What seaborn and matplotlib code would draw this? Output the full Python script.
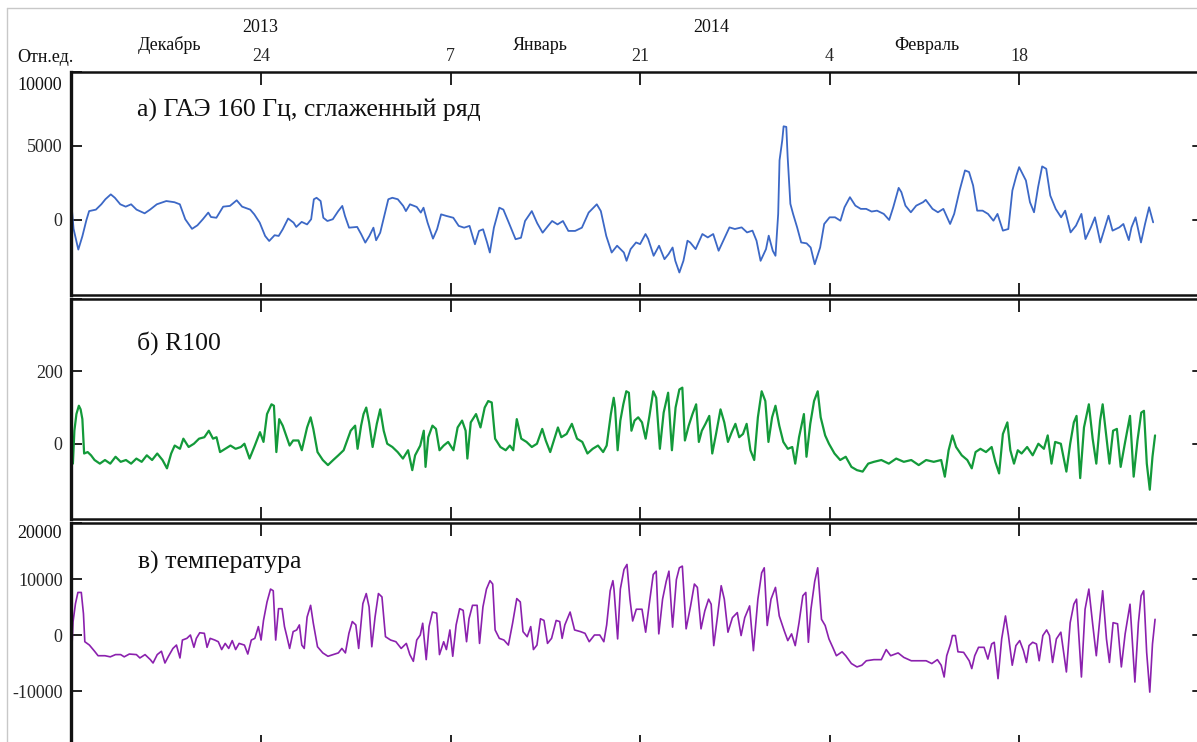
import matplotlib
matplotlib.use("Agg")
import matplotlib.pyplot as plt
import seaborn as sns
import pandas as pd
from matplotlib.lines import Line2D

# ---------------- data (day 0 = 10 December 2013) ----------------
tick_days = [14, 28, 42, 56, 70]
tick_labels = ["24", "7", "21", "4", "18"]
years = [("2013", 260), ("2014", 711)]
months = [("Декабрь", 170), ("Январь", 540), ("Февраль", 927)]

titles = ["а) ГАЭ 160 Гц, сглаженный ряд", "б) R100", "в) температура"]

# (day, value) — ГАЭ 160 Гц, smoothed
gae_points = [
    (0.0, 1000), (0.15, -600), (0.5, -2000), (0.8, -1100), (1.1, 0), (1.3, 600), (1.8, 700),
    (2.2, 1060), (2.5, 1400), (2.9, 1730), (3.2, 1500), (3.6, 1060), (4.0, 900), (4.4, 1060),
    (4.8, 700), (5.4, 450), (5.8, 700), (6.3, 1060), (7.0, 1280), (7.6, 1200), (8.0, 1060),
    (8.4, 50), (8.9, -600), (9.3, -360), (9.7, 50), (10.1, 500), (10.3, 200), (10.7, 150),
    (11.2, 900), (11.7, 950), (12.2, 1330), (12.6, 900), (13.2, 700), (13.5, 380), (13.9, -180),
    (14.3, -1080), (14.6, -1420), (15.0, -1030), (15.3, -1080), (15.6, -630), (16.0, 100),
    (16.4, -180), (16.6, -470), (17.0, -130), (17.4, -300), (17.7, 50), (17.9, 1400), (18.1, 1500),
    (18.4, 1280), (18.6, 150), (18.9, -70), (19.3, 50), (19.7, 600), (20.0, 950), (20.2, 270),
    (20.5, -520), (21.1, -470), (21.4, -970), (21.7, -1530), (22.0, -1080), (22.3, -520),
    (22.5, -1370), (22.8, -860), (23.1, 270), (23.4, 1400), (23.7, 1500), (24.1, 1400),
    (24.5, 950), (24.7, 600), (25.0, 1060), (25.5, 880), (25.8, 500), (26.0, 830), (26.3, -180),
    (26.7, -1260), (27.0, -630), (27.3, 380), (27.7, 270), (28.2, 150), (28.6, -400), (29.0, -520),
    (29.4, -400), (29.8, -1640), (30.1, -740), (30.4, -630), (30.7, -1530), (30.9, -2200),
    (31.2, -520), (31.6, 830), (31.9, 700), (32.3, -180), (32.8, -1300), (33.2, -1200),
    (33.5, -70), (34.0, 600), (34.4, -220), (34.8, -860), (35.2, -400), (35.5, -70), (35.9, -300),
    (36.3, -70), (36.7, -740), (37.2, -740), (37.7, -520), (38.2, 500), (38.8, 1060), (39.1, 600),
    (39.5, -1080), (39.9, -2200), (40.3, -1740), (40.8, -2200), (41.0, -2760), (41.3, -1970),
    (41.7, -1520), (42.0, -1630), (42.4, -950), (42.6, -1290), (43.0, -2420), (43.4, -1740),
    (43.8, -2650), (44.1, -2310), (44.4, -1860), (44.6, -2760), (44.9, -3550), (45.2, -2760),
    (45.5, -1400), (45.7, -1520), (46.1, -1970), (46.6, -950), (47.0, -1180), (47.4, -950),
    (47.8, -2080), (48.2, -1290), (48.6, -500), (49.0, -610), (49.5, -500), (49.9, -840),
    (50.3, -720), (50.6, -1400), (50.9, -2760), (51.3, -1970), (51.5, -1060), (51.8, -2080),
    (52.0, -2420), (52.2, 410), (52.3, 4030), (52.5, 5380), (52.6, 6330), (52.8, 6290),
    (52.9, 4250), (53.1, 1090), (53.3, 410), (53.6, -500), (53.9, -1520), (54.3, -1580),
    (54.6, -1860), (54.9, -2990), (55.3, -1860), (55.6, -270), (56.0, 180), (56.4, 180),
    (56.8, -50), (57.1, 860), (57.5, 1540), (57.9, 970), (58.3, 750), (58.7, 750), (59.1, 570),
    (59.5, 630), (60.0, 410), (60.4, 0), (60.7, 860), (61.1, 2170), (61.3, 1880), (61.6, 970),
    (62.0, 520), (62.4, 970), (62.9, 1200), (63.1, 1360), (63.6, 750), (64.0, 520), (64.4, 750),
    (64.9, -270), (65.2, 410), (65.6, 1990), (66.0, 3350), (66.3, 3240), (66.6, 2330),
    (66.9, 630), (67.3, 630), (67.7, 410), (68.1, -50), (68.4, 410), (68.8, -720), (69.2, -610),
    (69.5, 1990), (69.8, 3010), (70.0, 3570), (70.5, 2670), (70.8, 1200), (71.1, 520),
    (71.4, 2220), (71.7, 3620), (72.0, 3460), (72.3, 1650), (72.7, 750), (73.1, 180), (73.4, 630),
    (73.8, -840), (74.2, -380), (74.6, 410), (74.9, -1290), (75.3, -500), (75.6, 180),
    (76.0, -1520), (76.3, -610), (76.6, 290), (76.9, -720), (77.4, -500), (77.7, -270),
    (78.1, -1360), (78.3, -500), (78.6, 180), (79.0, -1520), (79.3, -270), (79.6, 860),
    (79.9, -160),
]

# (day, value) — R100
r100_points = [
    (0.0, -55), (0.1, -55), (0.21, 36), (0.36, 82), (0.54, 105), (0.67, 95), (0.8, 68),
    (0.93, -27), (1.19, -23), (1.44, -32), (1.7, -45), (2.09, -55), (2.47, -45), (2.86, -55),
    (3.25, -36), (3.63, -50), (4.02, -45), (4.4, -55), (4.79, -41), (5.18, -50), (5.56, -32),
    (5.95, -45), (6.33, -27), (6.72, -45), (7.05, -68), (7.36, -27), (7.62, -5), (8.01, -14),
    (8.26, 14), (8.65, -9), (9.04, 0), (9.42, 14), (9.81, 18), (10.14, 36), (10.45, 14),
    (10.71, 18), (10.97, -23), (11.35, -14), (11.74, -5), (12.12, -14), (12.51, -9), (12.77, 0),
    (13.15, -41), (13.54, -5), (13.92, 32), (14.18, 5), (14.44, 82), (14.77, 109), (14.95, 105),
    (15.13, -23), (15.34, 68), (15.6, 50), (15.85, 23), (16.11, -5), (16.37, 9), (16.76, 9),
    (17.01, -18), (17.4, 45), (17.66, 73), (17.86, 41), (18.17, -23), (18.56, -45), (18.94, -59),
    (19.33, -45), (19.71, -32), (20.1, -18), (20.36, 9), (20.62, 36), (20.95, 50), (21.13, -14),
    (21.39, 50), (21.57, 82), (21.77, 100), (21.98, 59), (22.24, -9), (22.55, 55), (22.8, 95),
    (23.06, 36), (23.32, 0), (23.7, -9), (24.09, -23), (24.48, -41), (24.86, -18), (25.17, -73),
    (25.38, -32), (25.76, -5), (26.02, 36), (26.15, -64), (26.35, 18), (26.66, 50), (26.92, 41),
    (27.18, -18), (27.49, -5), (27.82, 5), (28.21, -18), (28.52, 45), (28.85, 64), (29.11, 36),
    (29.24, -41), (29.49, 59), (29.88, 82), (30.21, 45), (30.52, 100), (30.78, 118), (31.04, 114),
    (31.29, 14), (31.68, -9), (32.07, -18), (32.38, -5), (32.63, -18), (32.89, 68), (33.22, 14),
    (33.61, 5), (34.0, -9), (34.38, 0), (34.77, 41), (35.03, 9), (35.36, -23), (35.67, 14),
    (35.93, 45), (36.18, 18), (36.57, 27), (36.96, 55), (37.34, 14), (37.73, 5), (38.11, -27),
    (38.5, -14), (38.89, -5), (39.27, -23), (39.53, -5), (39.84, 82), (40.05, 127), (40.15, 100),
    (40.34, -18), (40.54, 64), (40.76, 109), (40.98, 145), (41.17, 141), (41.36, 36), (41.59, 64),
    (41.86, 73), (42.14, 59), (42.41, 14), (42.69, 77), (42.97, 145), (43.19, 127), (43.46, -14),
    (43.74, 86), (44.07, 141), (44.35, -18), (44.62, 100), (44.9, 150), (45.12, 155), (45.31, 9),
    (45.59, 50), (45.87, 82), (46.14, 109), (46.34, 5), (46.56, 36), (46.83, 55), (47.11, 77),
    (47.33, -27), (47.61, 27), (47.94, 95), (48.22, 59), (48.49, 5), (48.77, 32), (49.04, 55),
    (49.32, 18), (49.6, 27), (49.87, 55), (50.15, -18), (50.43, -45), (50.7, 73), (50.98, 145),
    (51.25, 118), (51.48, 5), (51.75, 73), (52.0, 105), (52.28, 50), (52.58, 5), (52.91, -14),
    (53.24, -9), (53.46, -55), (53.74, 18), (54.1, 82), (54.29, -36), (54.57, 55), (54.85, 118),
    (55.12, 145), (55.34, 73), (55.67, 23), (55.95, 0), (56.36, -27), (56.78, -45), (57.19, -36),
    (57.61, -64), (58.02, -73), (58.44, -77), (58.85, -55), (59.27, -50), (59.82, -45),
    (60.37, -55), (60.92, -41), (61.48, -50), (62.03, -45), (62.58, -59), (63.13, -45),
    (63.69, -50), (64.24, -45), (64.51, -91), (64.79, -18), (65.07, 23), (65.34, -9), (65.76, -32),
    (66.17, -45), (66.5, -68), (66.78, -23), (67.14, -14), (67.55, -23), (67.97, -9), (68.24, -50),
    (68.52, -82), (68.8, 27), (69.13, 59), (69.35, -18), (69.62, -55), (69.9, -18), (70.18, -27),
    (70.59, -9), (71.0, -32), (71.42, 0), (71.83, -14), (72.11, 23), (72.39, -55), (72.66, 5),
    (73.08, 0), (73.49, -77), (73.77, 0), (74.04, 59), (74.24, 77), (74.51, -95), (74.79, 45),
    (75.15, 109), (75.43, 14), (75.7, -55), (75.98, 64), (76.17, 109), (76.39, 36), (76.67, -55),
    (76.94, 36), (77.22, 41), (77.5, -64), (77.83, 5), (78.19, 77), (78.46, -91), (78.74, 9),
    (79.02, 86), (79.22, 91), (79.43, -55), (79.65, -127), (79.85, -36), (80.04, 23),
]

# (day, value) — температура
temp_points = [
    (0.0, -3800), (0.11, 2350), (0.29, 5600), (0.47, 7600), (0.72, 7600), (0.88, 3800),
    (0.98, -1200), (1.32, -1800), (1.7, -2900), (1.96, -3700), (2.47, -3700), (2.86, -3900),
    (3.25, -3500), (3.63, -3500), (3.89, -3900), (4.27, -3400), (4.79, -3500), (5.05, -4100),
    (5.43, -3500), (5.82, -4400), (6.02, -5000), (6.33, -3500), (6.64, -2900), (6.9, -5000),
    (7.16, -3800), (7.49, -2400), (7.75, -1800), (8.01, -4100), (8.19, -900), (8.52, -600),
    (8.78, 0), (9.04, -2200), (9.22, -600), (9.47, 400), (9.81, 300), (10.01, -2200),
    (10.24, -600), (10.58, -900), (10.84, -1200), (11.09, -2600), (11.35, -1500), (11.61, -2400),
    (11.87, -1000), (12.12, -2600), (12.38, -1500), (12.77, -1800), (13.02, -3400), (13.28, -900),
    (13.54, -600), (13.8, 1500), (14.0, -900), (14.18, 2600), (14.44, 5900), (14.7, 8200),
    (14.9, 7900), (15.08, -900), (15.29, 4700), (15.55, 4700), (15.73, 1500), (15.91, -300),
    (16.11, -2400), (16.37, 600), (16.63, 900), (16.83, 1800), (17.01, -1800), (17.19, -2400),
    (17.4, 3200), (17.66, 5300), (17.86, 2100), (18.17, -2100), (18.56, -3200), (18.94, -3800),
    (19.33, -3500), (19.71, -3200), (19.97, -2400), (20.23, -3200), (20.49, 300), (20.74, 2400),
    (21.0, 1800), (21.21, -2400), (21.52, 5600), (21.77, 7400), (21.98, 5000), (22.18, -2100),
    (22.42, 3200), (22.67, 7400), (22.93, 6800), (23.19, -300), (23.57, -900), (23.96, -1200),
    (24.35, -2400), (24.73, -1500), (24.99, -3500), (25.25, -4700), (25.5, -900), (25.76, 0),
    (25.94, 2100), (26.2, -4400), (26.41, 1500), (26.66, 4100), (26.97, 3900), (27.18, -3500),
    (27.49, -1200), (27.69, -2600), (27.95, 900), (28.16, -3800), (28.41, 1800), (28.67, 4700),
    (28.93, 4400), (29.18, -1200), (29.36, 2900), (29.62, 5300), (29.96, 5300), (30.14, -1500),
    (30.39, 5000), (30.65, 8200), (30.91, 9700), (31.11, 9100), (31.29, 900), (31.6, -600),
    (31.94, -900), (32.27, -1800), (32.58, 2100), (32.89, 6500), (33.15, 5900), (33.35, 600),
    (33.66, -300), (33.92, 1500), (34.12, -2600), (34.38, -1800), (34.64, 2900), (34.9, 2600),
    (35.16, -1500), (35.46, -600), (35.8, 2600), (36.06, 2400), (36.24, -600), (36.44, 1800),
    (36.83, 4100), (37.16, 900), (37.6, 600), (37.93, 300), (38.24, -1200), (38.63, 0),
    (39.02, 0), (39.32, -1200), (39.53, 1800), (39.79, 7900), (39.99, 9700), (40.07, 8200),
    (40.34, -700), (40.54, 8200), (40.81, 11700), (41.03, 12600), (41.25, 6400), (41.45, 2500),
    (41.72, 4600), (42.14, 4600), (42.41, 500), (42.69, 5800), (42.97, 10800), (43.19, 11400),
    (43.38, 200), (43.66, 6400), (43.93, 9600), (44.13, 11400), (44.4, 1400), (44.68, 9900),
    (44.9, 12000), (45.12, 12300), (45.4, 1100), (45.73, 5200), (46.01, 9100), (46.23, 8500),
    (46.5, 1100), (46.78, 4300), (47.06, 6400), (47.25, 5500), (47.44, -1900), (47.72, 3400),
    (47.99, 8800), (48.22, 6400), (48.49, 500), (48.82, 3100), (49.18, 4000), (49.46, -100),
    (49.73, 3100), (50.09, 5200), (50.37, -2800), (50.7, 6400), (50.98, 11100), (51.17, 12000),
    (51.39, 1700), (51.67, 6400), (52.0, 8500), (52.28, 3400), (52.64, 800), (52.91, -1000),
    (53.19, 200), (53.46, -1900), (53.74, 2200), (54.02, 7000), (54.24, 7600), (54.43, -1300),
    (54.62, 4600), (54.9, 9600), (55.12, 12000), (55.4, 2800), (55.67, 1700), (55.95, -700),
    (56.23, -2200), (56.5, -3700), (56.92, -3000), (57.19, -3700), (57.61, -5100), (58.02, -5700),
    (58.38, -5400), (58.71, -4600), (59.27, -4400), (59.82, -4400), (60.18, -2600), (60.51, -3700),
    (61.06, -3200), (61.48, -4000), (62.03, -4600), (62.58, -4600), (63.13, -4600), (63.55, -5100),
    (63.96, -4400), (64.24, -5400), (64.46, -7500), (64.65, -3700), (64.93, -1600), (65.07, -100),
    (65.29, -100), (65.48, -3000), (65.9, -3100), (66.31, -4600), (66.5, -6000), (66.72, -3700),
    (67.0, -2200), (67.41, -2200), (67.69, -4300), (67.97, -1600), (68.16, -1300), (68.44, -7800),
    (68.71, -700), (68.99, 3400), (69.21, -100), (69.49, -5400), (69.76, -1900), (70.04, -1000),
    (70.32, -2800), (70.54, -4900), (70.73, -1900), (71.0, -1300), (71.28, -1600), (71.48, -4600),
    (71.75, -100), (72.03, 900), (72.24, -100), (72.47, -4900), (72.75, -700), (73.08, 500),
    (73.49, -6600), (73.77, 2200), (74.04, 5500), (74.24, 6400), (74.6, -7500), (74.87, 4600),
    (75.15, 8200), (75.43, 2000), (75.7, -3700), (75.98, 3400), (76.17, 7900), (76.45, -700),
    (76.67, -4900), (76.94, 2200), (77.27, 2000), (77.55, -5700), (77.83, 200), (78.19, 5500),
    (78.55, -8400), (78.81, 2200), (79.01, 7000), (79.2, 7900), (79.42, -3100), (79.65, -10200),
    (79.85, -1600), (80.04, 2800),
]

series = [
    (gae_points, "#3C68C6", 1.3, (-5070, 10000), [0, 5000, 10000], ["0", "5000", ""], [5000, 0]),
    (r100_points, "#139A3A", 1.6, (-208, 400), [0, 200, 400], ["0", "200", ""], [200, 0]),
    (temp_points, "#8B21AE", 1.2, (-20000, 20000), [-10000, 0, 10000, 20000],
     ["-10000", "0", "10000", ""], [10000, 0, -10000]),
]

# ---------------- figure ----------------
sns.set_style("white")
plt.rcParams["font.family"] = ["Liberation Serif", "DejaVu Serif"]

W, H = 1197, 742
fig = plt.figure(figsize=(W / 100, H / 100), dpi=100)


def box(l, t, r, b):
    return [l / W, 1 - b / H, (r - l) / W, (b - t) / H]


axes = [fig.add_axes(box(71, 72, 1200, 295)),
        fig.add_axes(box(71, 299, 1200, 519)),
        fig.add_axes(box(71, 523, 1200, 747))]

for i, (ax, (pts, col, lw, ylim, yt, ytl, rticks)) in enumerate(zip(axes, series)):
    df = pd.DataFrame(pts, columns=["day", "value"])
    sns.lineplot(data=df, x="day", y="value", ax=ax, color=col, linewidth=lw,
                 estimator=None, sort=False)
    ax.set_xlim(-0.04, 83.36)
    ax.set_ylim(*ylim)
    ax.set_xlabel("")
    ax.set_ylabel("")
    ax.set_facecolor("none")
    ax.set_xticks(tick_days)
    ax.set_xticklabels(tick_labels if i == 0 else [""] * len(tick_days))
    ax.tick_params(axis="x", direction="in", length=9, width=1.4, top=True, bottom=True,
                   labeltop=(i == 0), labelbottom=False, labelsize=13, pad=5, color="#222222")
    ax.set_yticks(yt)
    ax.set_yticklabels(ytl)
    ax.tick_params(axis="y", direction="in", length=8, width=1.4, left=True, right=False,
                   labelsize=13, pad=6, color="#222222")
    # right-side inward ticks
    for rv in rticks:
        ax.plot([1.0, 0.994], [rv, rv], transform=ax.get_yaxis_transform(),
                color="#222222", lw=1.4, clip_on=False)
    ax.spines["right"].set_visible(False)
    for s in ["left", "top", "bottom"]:
        ax.spines[s].set_color("#111111")
        ax.spines[s].set_linewidth(1.8)
    ax.spines["left"].set_linewidth(2.4)

# titles inside panels
title_pos = [(137, 110), (137, 343), (138, 562)]
for t, (px, py) in zip(titles, title_pos):
    fig.text(px / W, 1 - py / H, t, ha="left", va="center", fontsize=18.5, color="#111111")

# header
fig.text(45 / W, 1 - 57 / H, "Отн.ед.", ha="center", va="center", fontsize=13, color="#111111")
for txt, px in years:
    fig.text(px / W, 1 - 27 / H, txt, ha="center", va="center", fontsize=13, color="#111111")
for txt, px in months:
    fig.text(px / W, 1 - 45 / H, txt, ha="center", va="center", fontsize=13, color="#111111")

# top-of-panel value labels
fig.text(62 / W, 1 - 86 / H, "10000", ha="right", va="center", fontsize=13, color="#111111")
fig.text(62 / W, 1 - 533 / H, "20000", ha="right", va="center", fontsize=13, color="#111111")

# light frame
fig.add_artist(Line2D([7 / W, 1.0], [1 - 8 / H, 1 - 8 / H], color="#c8c8c8", lw=1.0,
                      transform=fig.transFigure))
fig.add_artist(Line2D([7 / W, 7 / W], [0.0, 1 - 8 / H], color="#c8c8c8", lw=1.0,
                      transform=fig.transFigure))

fig.savefig("out.png", dpi=100)
